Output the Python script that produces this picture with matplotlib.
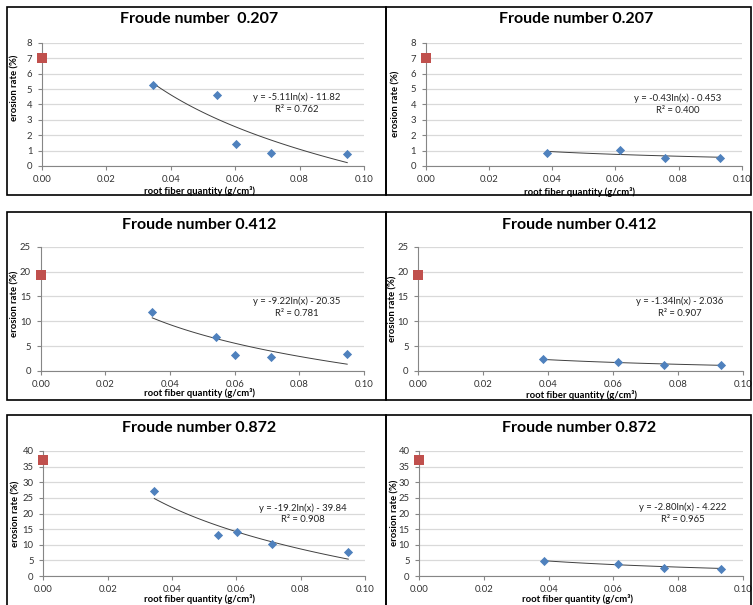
import numpy as np
import matplotlib
matplotlib.use("Agg")
import matplotlib.pyplot as plt
from matplotlib.patches import Rectangle

plt.rcParams['font.family'] = ['Lato', 'DejaVu Sans']

W, H = 753, 605

# ---- data ----
titles = ["Froude number  0.207", "Froude number 0.207",
          "Froude number 0.412", "Froude number 0.412",
          "Froude number 0.872", "Froude number 0.872"]
x_left = [0.0345, 0.0543, 0.0602, 0.0712, 0.0948]
x_right = [0.0385, 0.0615, 0.0757, 0.0932]
control_x = [0.0, 0.0, 0.0]
control_y = [7.0, 19.3, 37.0]
y_left_207 = [5.3, 4.6, 1.42, 0.84, 0.76]
y_right_207 = [0.87, 1.06, 0.54, 0.52]
y_left_412 = [11.9, 6.9, 3.15, 2.75, 3.4]
y_right_412 = [2.35, 1.75, 1.15, 1.2]
y_left_872 = [27.3, 13.1, 14.1, 10.2, 7.7]
y_right_872 = [4.8, 3.7, 2.7, 2.4]
trend_a = [-5.11, -0.43, -9.22, -1.34, -19.2, -2.80]
trend_b = [-11.82, -0.453, -20.35, -2.036, -39.84, -4.222]
eq_text = ["y = -5.11ln(x) - 11.82", "y = -0.43ln(x) - 0.453",
           "y = -9.22ln(x) - 20.35", "y = -1.34ln(x) - 2.036",
           "y = -19.2ln(x) - 39.84", "y = -2.80ln(x) - 4.222"]
r2_text = ["R² = 0.762", "R² = 0.400", "R² = 0.781",
           "R² = 0.907", "R² = 0.908", "R² = 0.965"]
x_ticks = [0.0, 0.02, 0.04, 0.06, 0.08, 0.10]
y_max = [8, 8, 25, 25, 40, 40]
y_step = [1, 1, 5, 5, 5, 5]

series_x = [x_left, x_right, x_left, x_right, x_left, x_right]
series_y = [y_left_207, y_right_207, y_left_412, y_right_412, y_left_872, y_right_872]
ctrl_idx = [0, 0, 1, 1, 2, 2]

# ---- layout (pixels) ----
axes_px = [(42, 364, 43, 166), (425.7, 741.7, 42.7, 166),
           (40.7, 364, 246.7, 371), (418.3, 742.7, 246.7, 371),
           (43.3, 365, 451, 576), (419.3, 742.7, 451, 576)]
title_px = [(199, 19), (576, 19), (199, 225), (579, 225), (199, 428), (579, 428)]
eq_px = [(297, 97, 109), (678, 98, 110), (297, 301, 313),
         (680, 301, 313), (303, 508, 520), (683, 507, 519)]
ylab_px = [(15, 88), (396, 104), (15, 304), (393, 309), (16, 514), (395, 513)]
xlab_px = [(200, 191.5), (580, 192.5), (200, 393.5), (581, 394.5), (199, 599), (578, 599)]
boxes_px = [(7, 386, 7, 195), (386, 751, 7, 195),
            (7, 386, 212, 400), (386, 751, 212, 400),
            (7, 386, 415, 612), (386, 751, 415, 612)]

fig = plt.figure(figsize=(W / 100, H / 100), dpi=100)

def fx(x):
    return x / W

def fy(y):
    return 1 - y / H

for (x0, x1, y0, y1) in boxes_px:
    fig.add_artist(Rectangle((fx(x0), fy(y1)), fx(x1) - fx(x0), fy(y0) - fy(y1),
                             transform=fig.transFigure, fill=False,
                             edgecolor='black', linewidth=1.2))

blue = '#4F81BD'
red = '#C0504D'
gridc = '#D9D9D9'
axc = '#868686'

for i in range(6):
    x0, x1, yt, yb = axes_px[i]
    ax = fig.add_axes([fx(x0), fy(yb), fx(x1) - fx(x0), fy(yt) - fy(yb)])
    ax.set_xlim(0, 0.10)
    ax.set_ylim(0, y_max[i])
    ax.set_xticks(x_ticks)
    ax.set_xticklabels([f"{t:.2f}" for t in x_ticks])
    yt_vals = np.arange(0, y_max[i] + 0.001, y_step[i])
    ax.set_yticks(yt_vals)
    ax.set_yticklabels([f"{int(t)}" for t in yt_vals])
    ax.grid(axis='y', color=gridc, linewidth=0.9)
    ax.set_axisbelow(True)
    for s in ['top', 'right']:
        ax.spines[s].set_visible(False)
    for s in ['left', 'bottom']:
        ax.spines[s].set_color(axc)
        ax.spines[s].set_linewidth(0.8)
    ax.tick_params(axis='both', direction='out', length=3, width=0.8, color=axc,
                   labelsize=6.8, labelcolor='#333333')
    ax.tick_params(axis='x', pad=3.5)
    ax.tick_params(axis='y', pad=4)

    # trendline
    sx = np.array(series_x[i])
    xs = np.linspace(sx.min(), sx.max(), 100)
    ax.plot(xs, trend_a[i] * np.log(xs) + trend_b[i], color='#404040', linewidth=0.7)
    ax.scatter(series_x[i], series_y[i], marker='D', s=22, color=blue, zorder=3,
               linewidths=0)
    k = ctrl_idx[i]
    ax.scatter([control_x[k]], [control_y[k]], marker='s', s=45, color=red,
               zorder=4, clip_on=False, linewidths=0)

    tx, ty = title_px[i]
    fig.text(fx(tx), fy(ty), titles[i], ha='center', va='center',
             fontsize=11.5, fontweight='bold', color='black')
    ex, ey1, ey2 = eq_px[i]
    fig.text(fx(ex), fy(ey1), eq_text[i], ha='center', va='center', fontsize=6.8,
             color='#222222')
    fig.text(fx(ex), fy(ey2), r2_text[i], ha='center', va='center', fontsize=6.8,
             color='#222222')
    lx, ly = ylab_px[i]
    fig.text(fx(lx), fy(ly), "erosion rate (%)", rotation=90, ha='center',
             va='center', fontsize=6.8, fontweight='bold', color='black')
    xx, xy = xlab_px[i]
    fig.text(fx(xx), fy(xy), "root fiber quantity (g/cm³)", ha='center',
             va='center', fontsize=6.8, fontweight='bold', color='black')

fig.savefig("out.png", dpi=100)
